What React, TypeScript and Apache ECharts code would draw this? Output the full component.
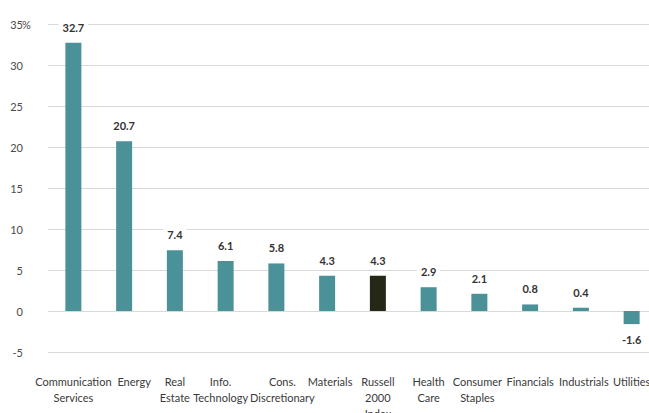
import React, { useEffect, useRef } from "react";
import * as echarts from "echarts";

const categories = [
  "Communication\nServices",
  "Energy",
  "Real\nEstate",
  "Info.\nTechnology",
  "Cons.\nDiscretionary",
  "Materials",
  "Russell\n2000\nIndex",
  "Health\nCare",
  "Consumer\nStaples",
  "Financials",
  "Industrials",
  "Utilities",
];
const values = [32.7, 20.7, 7.4, 6.1, 5.8, 4.3, 4.3, 2.9, 2.1, 0.8, 0.4, -1.6];
const highlightCategory = "Russell\n2000\nIndex";
const yMin = -5;
const yMax = 35;
const yStep = 5;
const unitSuffix = "%";

const FONT = "Lato, 'DejaVu Sans', sans-serif";
// horizontal nudges of some category labels (style only), in px: + right, - left
const labelNudge: Record<number, number> = { 1: 10, 3: -5, 4: 6, 5: 3, 8: -2, 10: 3 };

export default function App() {
  const ref = useRef<HTMLDivElement>(null);
  useEffect(() => {
    if (!ref.current) return;
    const chart = echarts.init(ref.current, undefined, {
      renderer: "svg",
      width: 649,
      height: 413,
    });
    const rich: Record<string, any> = {};
    Object.keys(labelNudge).forEach((k) => {
      const n = labelNudge[Number(k)];
      rich["n" + k] = {
        fontFamily: FONT,
        fontSize: 11,
        lineHeight: 16,
        color: "#3a3a3a",
        padding: n > 0 ? [0, 0, 0, 2 * n] : [0, -2 * n, 0, 0],
      };
    });
    chart.setOption({
      animation: false,
      grid: {
        left: 48,
        right: -8,
        top: 24,
        bottom: 61,
        containLabel: false,
        outerBoundsMode: "none",
      },
      xAxis: {
        type: "category",
        data: categories,
        position: "bottom",
        axisLine: { show: false, onZero: false },
        axisTick: { show: false },
        axisLabel: {
          interval: 0,
          margin: 21,
          fontFamily: FONT,
          fontSize: 11,
          lineHeight: 16,
          color: "#3a3a3a",
          align: "center",
          hideOverlap: false,
          formatter: (v: string, i: number) =>
            labelNudge[i] !== undefined
              ? v
                  .split("\n")
                  .map((line) => `{n${i}|${line}}`)
                  .join("\n")
              : v,
          rich,
        },
      },
      yAxis: [
        {
          type: "value",
          min: yMin,
          max: yMax,
          interval: yStep,
          axisLine: { show: false },
          axisTick: { show: false },
          splitLine: { lineStyle: { color: "#d9d9d9", width: 1 } },
          axisLabel: {
            margin: 25,
            fontFamily: FONT,
            fontSize: 11,
            color: "#4a4a4a",
          },
        },
        {
          type: "value",
          position: "left",
          min: yMin,
          max: yMax,
          interval: yStep,
          axisLine: { show: false },
          axisTick: { show: false },
          splitLine: { show: false },
          axisLabel: {
            margin: 26,
            align: "left",
            fontFamily: FONT,
            fontSize: 11,
            color: "#4a4a4a",
            formatter: (v: number) => (v === yMax ? unitSuffix : ""),
          },
        },
      ],
      series: [
        {
          type: "bar",
          barWidth: 16,
          yAxisIndex: 0,
          data: values.map((v, i) => ({
            value: v,
            itemStyle: {
              color: categories[i] === highlightCategory ? "#252717" : "#4b9198",
            },
            label: v < 0 ? { position: "bottom" } : undefined,
          })),
          label: {
            show: true,
            position: "top",
            distance: 9,
            fontFamily: FONT,
            fontSize: 11,
            fontWeight: "bold",
            color: "#333333",
            backgroundColor: "#ffffff",
            padding: [1, 4],
          },
        },
      ],
    });
    return () => chart.dispose();
  }, []);
  return (
    <div
      ref={ref}
      style={{ position: "fixed", left: 0, top: 0, width: 649, height: 413, background: "#fff" }}
    />
  );
}
